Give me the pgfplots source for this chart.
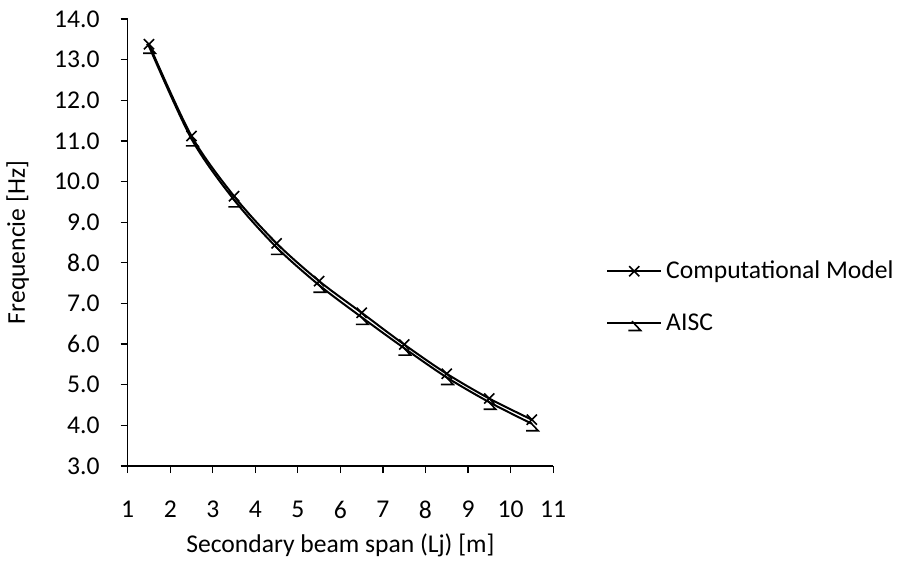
\documentclass[border=0pt]{standalone}
\usepackage{pgfplots}
\pgfplotsset{compat=1.18}
\usepackage{fontspec}
\setmainfont{Carlito}
\pgfdeclareplotmark{aisc}{%
  \pgfpathmoveto{\pgfqpoint{-0.35\pgfplotmarksize}{0.35\pgfplotmarksize}}%
  \pgfpathlineto{\pgfqpoint{1.0\pgfplotmarksize}{-1.1\pgfplotmarksize}}%
  \pgfpathlineto{\pgfqpoint{-0.9\pgfplotmarksize}{-1.1\pgfplotmarksize}}%
  \pgfusepathqstroke}
\begin{document}
\begin{tikzpicture}
\path[use as bounding box] (0,0) rectangle (453pt,290pt);
\begin{axis}[
  at={(63.85pt,57pt)}, anchor=south west,
  scale only axis, width=212.7pt, height=223.5pt,
  xmin=1, xmax=11, ymin=3, ymax=14,
  xtick={1,2,...,11}, ytick={3,4,...,14},
  axis lines=left, axis line style={-, line width=0.6pt},
  tick align=outside, major tick length=3.5pt,
  tick style={line width=0.6pt, black},
  yticklabel={\pgfmathprintnumber[fixed,fixed zerofill,precision=1]{\tick}},
  /pgf/number format/assume math mode=true,
  tick label style={font=\fontsize{12.8}{15}\selectfont},
  xticklabel style={yshift=-10.5pt},
  yticklabel style={xshift=-7pt},
  xlabel={Secondary beam span (Lj) [m]},
  ylabel={Frequencie [Hz]},
  every axis x label/.style={at={(axis description cs:0.5,-0.177)}, anchor=center, font=\fontsize{12.8}{15}\selectfont},
  every axis y label/.style={at={(axis description cs:-0.2586,0.5)}, anchor=center, rotate=90, font=\fontsize{12.8}{15}\selectfont},
  legend style={at={(axis description cs:1.124,0.378)}, anchor=west, draw=none, fill=none,
    font=\fontsize{12.8}{15}\selectfont, row sep=12pt, inner sep=0pt},
  legend cell align=left,
  legend image code/.code={\draw[mark repeat=2,mark phase=2,#1] plot coordinates {(0pt,0pt) (13.5pt,0pt) (27pt,0pt)};},
  clip=false,
]
\addplot[black, line width=1pt, smooth, mark=x, mark size=3.6pt, mark options={line width=0.8pt}]
  coordinates {(1.5,13.38) (2.5,11.12) (3.5,9.64) (4.5,8.48) (5.5,7.55) (6.5,6.77) (7.5,5.99) (8.5,5.27) (9.5,4.66) (10.5,4.14)};
\addlegendentry{Computational Model}
\addplot[black, line width=1pt, smooth, mark=aisc, mark size=3.2pt, mark options={line width=0.8pt}]
  coordinates {(1.5,13.33) (2.5,11.05) (3.5,9.55) (4.5,8.38) (5.5,7.45) (6.5,6.66) (7.5,5.90) (8.5,5.18) (9.5,4.57) (10.5,4.04)};
\addlegendentry{AISC}
\end{axis}
\end{tikzpicture}
\end{document}
